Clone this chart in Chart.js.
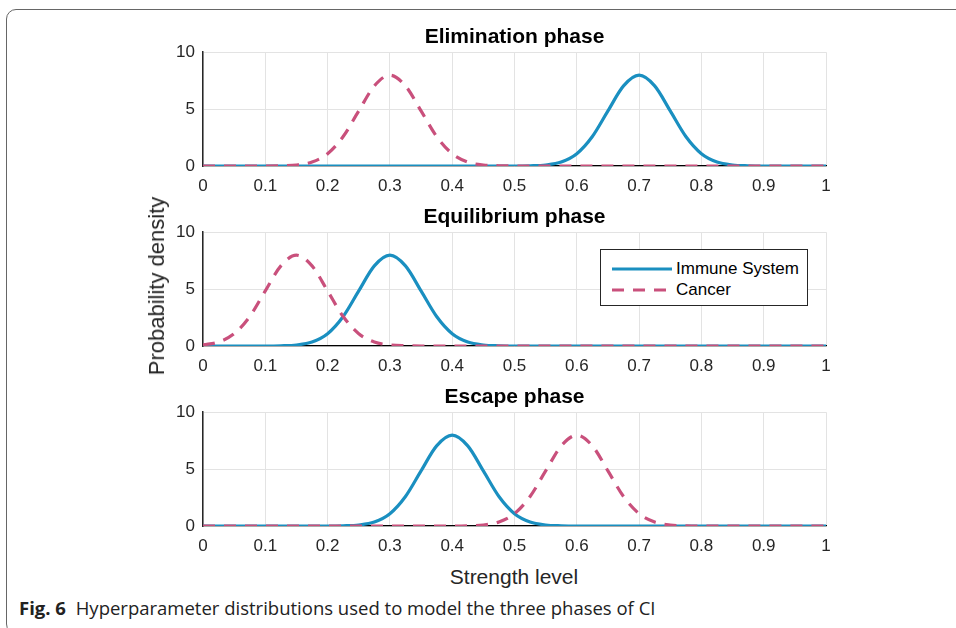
<!DOCTYPE html>
<html>
<head>
<meta charset="utf-8">
<script src="https://cdn.jsdelivr.net/npm/chart.js@4/dist/chart.umd.min.js"></script>
<style>
  html, body { margin: 0; padding: 0; background: #fff; width: 956px; height: 628px; overflow: hidden; }
  .frame { position: absolute; left: 6px; top: 9px; width: 1000px; height: 625px; border: 1.5px solid #666; border-radius: 10px; box-sizing: border-box; }
  canvas.plot { position: absolute; left: 150px; }
  .ylab { position: absolute; left: 157px; top: 286px; transform: translate(-50%, -50%) rotate(-90deg); font: 22px "Liberation Sans", Arial, sans-serif; color: #262626; white-space: nowrap; }
  .xlab { position: absolute; left: 514px; top: 577px; transform: translate(-50%, -50%); font: 21px "Liberation Sans", Arial, sans-serif; color: #262626; white-space: nowrap; }
  .legend { position: absolute; left: 600px; top: 249px; width: 208px; height: 57px; border: 1px solid #262626; background: #fff; box-sizing: border-box; }
  .legend svg { position: absolute; left: 0; top: 0; }
  .legend span { position: absolute; left: 75px; font: 17px "Liberation Sans", Arial, sans-serif; color: #000; white-space: nowrap; transform: translateY(-50%); }
  .caption { position: absolute; left: 19px; top: 607px; transform: translateY(-50%); font: 18.5px "Open Sans", "Noto Sans", sans-serif; color: #222; white-space: nowrap; letter-spacing: 0px; }
  .caption b { font-weight: 700; margin-right: 5px; }
</style>
</head>
<body>
<div class="frame"></div>
<canvas class="plot" id="c1" width="700" height="173" style="top:23px"></canvas>
<canvas class="plot" id="c2" width="700" height="173" style="top:203px"></canvas>
<canvas class="plot" id="c3" width="700" height="173" style="top:383px"></canvas>
<div class="ylab">Probability density</div>
<div class="xlab">Strength level</div>
<div class="legend">
  <svg width="208" height="57">
    <line x1="11" y1="19" x2="71" y2="19" stroke="#1a8fc0" stroke-width="3.2"/>
    <line x1="11" y1="40" x2="71" y2="40" stroke="#c9507c" stroke-width="3.2" stroke-dasharray="12 9"/>
  </svg>
  <span style="top:19px">Immune System</span>
  <span style="top:40px">Cancer</span>
</div>
<div class="caption"><b>Fig. 6</b> Hyperparameter distributions used to model the three phases of CI</div>
<script>
// Strength level sample points (0 .. 1, step 0.025)
const strength = [0,0.025,0.05,0.075,0.1,0.125,0.15,0.175,0.2,0.225,0.25,0.275,0.3,0.325,0.35,0.375,0.4,0.425,0.45,0.475,0.5,0.525,0.55,0.575,0.6,0.625,0.65,0.675,0.7,0.725,0.75,0.775,0.8,0.825,0.85,0.875,0.9,0.925,0.95,0.975,1];

const panelTitles = ['Elimination phase', 'Equilibrium phase', 'Escape phase'];
const seriesNames = ['Immune System', 'Cancer'];

// Elimination phase
const elimImmune = [0,0,0,0,0,0,0,0,0,0,0,0,0,0,0,0,0,0,0,0,0,0.02,0.09,0.35,1.08,2.59,4.84,7.04,7.98,7.04,4.84,2.59,1.08,0.35,0.09,0.02,0,0,0,0,0];
const elimCancer = [0,0,0,0,0,0.02,0.09,0.35,1.08,2.59,4.84,7.04,7.98,7.04,4.84,2.59,1.08,0.35,0.09,0.02,0,0,0,0,0,0,0,0,0,0,0,0,0,0,0,0,0,0,0,0,0];
// Equilibrium phase
const equiImmune = [0,0,0,0,0,0.02,0.09,0.35,1.08,2.59,4.84,7.04,7.98,7.04,4.84,2.59,1.08,0.35,0.09,0.02,0,0,0,0,0,0,0,0,0,0,0,0,0,0,0,0,0,0,0,0,0];
const equiCancer = [0.09,0.35,1.08,2.59,4.84,7.04,7.98,7.04,4.84,2.59,1.08,0.35,0.09,0.02,0,0,0,0,0,0,0,0,0,0,0,0,0,0,0,0,0,0,0,0,0,0,0,0,0,0,0];
// Escape phase
const escImmune = [0,0,0,0,0,0,0,0,0,0.02,0.09,0.35,1.08,2.59,4.84,7.04,7.98,7.04,4.84,2.59,1.08,0.35,0.09,0.02,0,0,0,0,0,0,0,0,0,0,0,0,0,0,0,0,0];
const escCancer = [0,0,0,0,0,0,0,0,0,0,0,0,0,0,0,0,0,0.02,0.09,0.35,1.08,2.59,4.84,7.04,7.98,7.04,4.84,2.59,1.08,0.35,0.09,0.02,0,0,0,0,0,0,0,0,0];

const xTickLabels = ['0','0.1','0.2','0.3','0.4','0.5','0.6','0.7','0.8','0.9','1'];
const yTickLabels = ['0','5','10'];

const panels = [
  { id: 'c1', title: panelTitles[0], immune: elimImmune, cancer: elimCancer },
  { id: 'c2', title: panelTitles[1], immune: equiImmune, cancer: equiCancer },
  { id: 'c3', title: panelTitles[2], immune: escImmune, cancer: escCancer }
];

const BLUE = '#1a8fc0';
const PINK = '#c9507c';
const FONT = '"Liberation Sans", Arial, sans-serif';

function pts(ys) { return strength.map((x, i) => ({ x: x, y: ys[i] })); }

panels.forEach(p => {
  new Chart(document.getElementById(p.id), {
    type: 'line',
    data: {
      datasets: [
        { label: seriesNames[1], data: pts(p.cancer), borderColor: PINK, borderWidth: 3.2, borderDash: [12, 9],
          pointRadius: 0, cubicInterpolationMode: 'monotone', fill: false, order: 0 },
        { label: seriesNames[0], data: pts(p.immune), borderColor: BLUE, borderWidth: 3.2,
          pointRadius: 0, cubicInterpolationMode: 'monotone', fill: false, order: 1 }
      ]
    },
    options: {
      responsive: false,
      animation: false,
      devicePixelRatio: 1,
      layout: { padding: { left: 0, right: 24, top: 0, bottom: 0 } },
      plugins: {
        legend: { display: false },
        tooltip: { enabled: false },
        title: { display: true, text: p.title, fullSize: false, color: '#000',
          font: { family: FONT, size: 21, weight: 'bold', lineHeight: 1.2 },
          padding: { top: 2, bottom: 2 } }
      },
      scales: {
        x: {
          type: 'linear', min: 0, max: 1,
          ticks: { stepSize: 0.1, color: '#262626', font: { family: FONT, size: 17 }, padding: 10,
            maxRotation: 0, autoSkip: false, callback: (v, i) => xTickLabels[i] },
          grid: { color: '#e3e3e3', lineWidth: 1, drawTicks: false },
          border: { color: '#000', width: 1.2 },
          afterFit: s => { s.height = 30; }
        },
        y: {
          min: 0, max: 10,
          ticks: { stepSize: 5, color: '#262626', font: { family: FONT, size: 17 }, padding: 8,
            callback: (v, i) => yTickLabels[i] },
          grid: { color: '#e3e3e3', lineWidth: 1, drawTicks: false },
          border: { color: '#262626', width: 1.5 },
          afterFit: s => { s.width = 53; }
        }
      }
    }
  });
});
</script>
</body>
</html>
